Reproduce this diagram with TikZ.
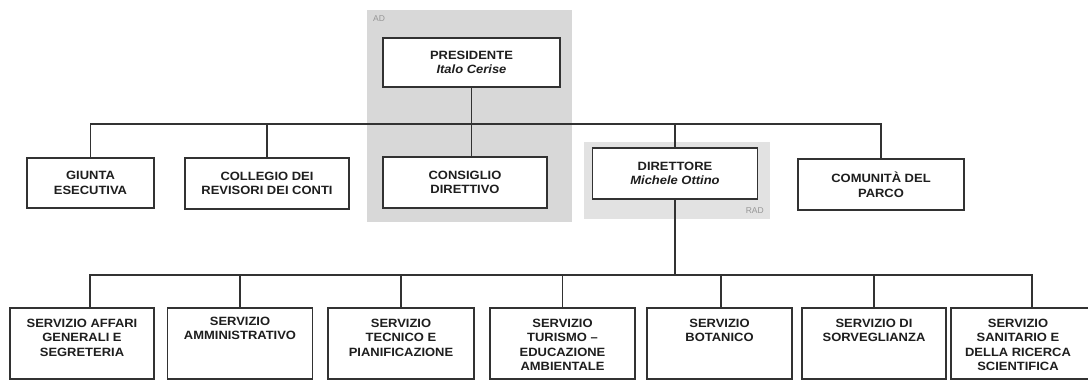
\documentclass[tikz,border=0pt]{standalone}
\usepackage{fontspec}
\setmainfont{Liberation Sans}
\newfontfamily\boxfont[FakeStretch=1.08]{Liberation Sans}
\definecolor{linec}{RGB}{50,50,50}
\definecolor{txtc}{RGB}{30,30,30}
\definecolor{adgray}{RGB}{216,216,216}
\definecolor{radgray}{RGB}{226,226,226}
\definecolor{lblgray}{RGB}{150,150,150}
\tikzset{
  orgbox/.style={draw=linec, line width=1.8pt, fill=white, inner sep=0pt,
    text=txtc, align=center, font=\boxfont\bfseries\fontsize{12}{14.5}\selectfont},
  lowbox/.style={orgbox, minimum width=#1, minimum height=71pt},
  boxtext/.style={anchor=north, inner sep=0pt, text=txtc, align=center,
    font=\boxfont\bfseries\fontsize{12}{14.3}\selectfont},
  conn/.style={draw=linec, line width=1.8pt},
  zone/.style={fill=#1, draw=none},
  zonelbl/.style={text=lblgray, font=\fontsize{8.5}{9}\selectfont, inner sep=0pt}
}
\begin{document}
\begin{tikzpicture}[x=1pt, y=-1pt]
\useasboundingbox (0,0) rectangle (1088,381);
% shaded zones
\path[zone=adgray] (367,10) rectangle (572,222);
\path[zone=radgray] (584,142) rectangle (770,219);
\node[zonelbl, anchor=west] (adl) at (373,19) {AD};
\node[zonelbl, anchor=east] (radl) at (764,211) {RAD};

% top level
\node[orgbox, minimum width=177pt, minimum height=49pt] (pres) at (471.5,62.5) {PRESIDENTE\\\itshape Italo Cerise};

\coordinate (tb) at (0,124);
\coordinate (bb) at (0,275);

% second row
\node[orgbox, minimum width=127pt, minimum height=50pt] (giunta) at (90.5,183) {GIUNTA\\ESECUTIVA};
\node[orgbox, minimum width=164pt, minimum height=51pt] (coll) at (267,183.5) {COLLEGIO DEI\\REVISORI DEI CONTI};
\node[orgbox, minimum width=164pt, minimum height=51pt] (cons) at (465,182.5) {CONSIGLIO\\DIRETTIVO};
\node[orgbox, minimum width=165pt, minimum height=51pt] (dir) at (675,173.5) {DIRETTORE\\\itshape Michele Ottino};
\node[orgbox, minimum width=166pt, minimum height=51pt] (com) at (881,184.5) {COMUNITÀ DEL\\PARCO};

% connectors, top
\draw[conn] (giunta.north) -- (giunta.north |- tb) -- (com.north |- tb) -- (com.north);
\draw[conn] (coll.north) -- (coll.north |- tb);
\draw[conn] (pres.south) -- (pres.south |- cons.north);
\draw[conn] (dir.north) -- (dir.north |- tb);

% bottom row
\node[lowbox=144pt] (s1) at (82,343.5) {};
\node[lowbox=145pt] (s2) at (240,343.5) {};
\node[lowbox=146pt] (s3) at (401,343.5) {};
\node[lowbox=145pt] (s4) at (562.5,343.5) {};
\node[lowbox=145pt] (s5) at (719.5,343.5) {};
\node[lowbox=144pt] (s6) at (874,343.5) {};
\node[lowbox=146pt] (s7) at (1024,343.5) {};

\node[boxtext] (t1) at ([yshift=-12pt]s1.north) {SERVIZIO AFFARI\\GENERALI E\\SEGRETERIA};
\node[boxtext] (t2) at ([yshift=-10pt]s2.north) {SERVIZIO\\AMMINISTRATIVO};
\node[boxtext] (t3) at ([yshift=-12pt]s3.north) {SERVIZIO\\TECNICO E\\PIANIFICAZIONE};
\node[boxtext] (t4) at ([yshift=-12pt]s4.north) {SERVIZIO\\TURISMO –\\EDUCAZIONE\\AMBIENTALE};
\node[boxtext] (t5) at ([yshift=-12pt]s5.north) {SERVIZIO\\BOTANICO};
\node[boxtext] (t6) at ([yshift=-12pt]s6.north) {SERVIZIO DI\\SORVEGLIANZA};
\node[boxtext] (t7) at ([yshift=-12pt]s7.north -| 1018,0) {SERVIZIO\\SANITARIO E\\DELLA RICERCA\\SCIENTIFICA};

% connectors, bottom
\draw[conn] (dir.south) -- (dir.south |- bb);
\draw[conn] ([xshift=81pt]s1.north west) -- ([xshift=81pt]s1.north west |- bb)
  -- ([xshift=82pt]s7.north west |- bb) -- ([xshift=82pt]s7.north west);
\draw[conn] (s2.north) -- (s2.north |- bb);
\draw[conn] (s3.north) -- (s3.north |- bb);
\draw[conn] (s4.north) -- (s4.north |- bb);
\draw[conn] ([xshift=1.5pt]s5.north) -- ([xshift=1.5pt]s5.north |- bb);
\draw[conn] (s6.north) -- (s6.north |- bb);
\end{tikzpicture}
\end{document}
